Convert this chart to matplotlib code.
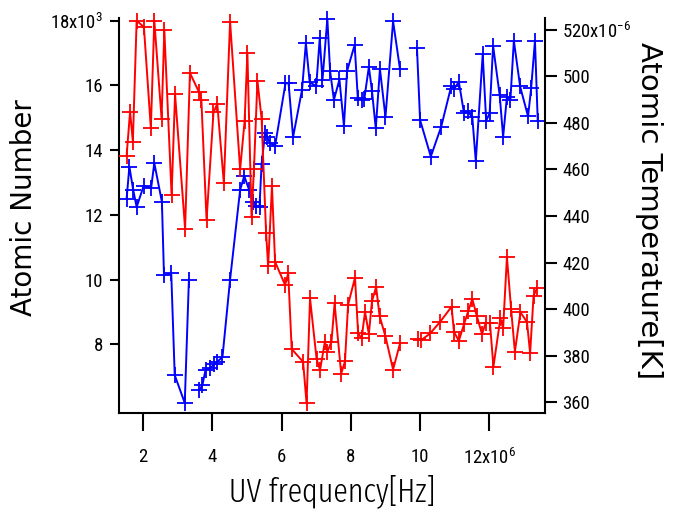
import numpy as np
import matplotlib
matplotlib.use("Agg")
import matplotlib.pyplot as plt

nan = np.nan

# UV frequency (x10^6 Hz) and Atomic Number (x10^3) -- blue, left axis
x_blue = [1.52, 1.60, 1.71, 1.81, 2.01, 2.23, 2.32, 2.54, 2.60, 2.81, 2.91, 3.20, 3.32,
          3.47,
          3.62, 3.71, 3.80, 3.93, 4.05, 4.14, 4.29, 4.51, 4.80, 4.92, 5.06, 5.18, 5.27, 5.36,
          5.42, 5.52, 5.58, 5.66, 5.81, 6.11, 6.20, 6.33, 6.59, 6.70, 6.81, 7.00, 7.10, 7.18,
          7.32, 7.40, 7.51, 7.67, 7.80, 7.89, 8.11, 8.20, 8.31, 8.39, 8.52, 8.61, 8.72, 8.84,
          9.00, 9.22, 9.42,
          9.66,
          9.91, 10.00, 10.31, 10.61, 10.90, 10.99, 11.12, 11.27, 11.38, 11.51, 11.61, 11.81,
          11.91, 12.01, 12.11, 12.30, 12.40, 12.51, 12.61, 12.71, 12.89, 13.12, 13.21, 13.32, 13.40]
atomic_number = [12.50, 13.49, 12.77, 12.24, 12.89, 12.84, 13.60, 12.40, 10.14, 10.19, 7.05, 6.19, 10.00,
                 nan,
                 6.59, 6.74, 7.21, 7.26, 7.38, 7.46, 7.61, 10.00, 12.77, 13.20, 12.77, 12.41, 12.26, 12.25,
                 13.56, 14.52, 14.40, 14.22, 14.13, 16.06, 16.07, 14.40, 15.87, 17.30, 16.09, 15.98, 17.45, 16.16,
                 18.06, 16.44, 15.55, 16.18, 14.74, 16.44, 17.25, 15.62, 15.55, 15.59, 16.57, 15.83, 14.67, 16.51,
                 15.02, 17.98, 16.50,
                 nan,
                 17.16, 14.93, 13.80, 14.72, 15.97, 15.90, 16.11, 15.14, 15.20, 15.01, 13.66, 16.96,
                 14.90, 15.14, 17.22, 15.70, 14.41, 15.65, 15.55, 17.38, 15.97, 15.04, 15.91, 17.38, 14.90]

# UV frequency (x10^6 Hz) and Atomic Temperature (x10^-6 K) -- red, right axis
x_red = [1.52, 1.62, 1.70, 1.81, 2.02, 2.22, 2.32, 2.53, 2.61, 2.82, 2.92, 3.21, 3.35, 3.61, 3.68,
         3.83, 4.03, 4.14, 4.33, 4.51, 4.80, 4.93, 5.01, 5.13, 5.20, 5.30, 5.42, 5.55, 5.61, 5.72,
         5.81, 6.10, 6.19, 6.29, 6.62, 6.72, 6.82, 7.01, 7.11, 7.25, 7.32, 7.44, 7.53, 7.72, 7.83,
         7.92, 8.12, 8.21, 8.31, 8.41, 8.52, 8.61, 8.73, 8.83, 9.00, 9.22, 9.42,
         9.68,
         9.94, 10.04, 10.29, 10.58, 10.91, 10.98, 11.12, 11.27, 11.39, 11.51, 11.64, 11.79, 11.90,
         12.02, 12.12, 12.32, 12.40, 12.51, 12.63, 12.74, 12.90, 13.09, 13.18, 13.28, 13.39]
temperature = [465.9, 484.9, 472.0, 524.0, 521.2, 477.7, 524.0, 481.9, 519.8, 449.0, 492.3, 434.5, 501.5,
               493.3, 489.9, 438.3, 484.5, 488.2, 454.1, 523.6, 460.0, 480.9, 510.2, 439.7, 460.3, 498.2,
               481.9, 432.9, 418.5, 452.9, 420.3, 410.3, 415.4, 382.8, 377.3, 359.4, 404.6, 378.5, 373.8,
               386.0, 381.6, 386.0, 402.4, 372.2, 377.5, 401.9, 413.5, 389.5, 387.4, 398.8, 389.2, 403.4,
               409.5, 397.0, 388.2, 374.0, 385.2,
               nan,
               387.1, 386.7, 389.5, 394.5, 401.0, 390.2, 386.3, 393.5, 399.0, 404.3, 397.0, 389.2, 394.2,
               393.8, 375.2, 396.0, 391.7, 422.4, 400.0, 381.7, 398.6, 394.4, 381.0, 405.8, 409.2]

x_ticks = [2, 4, 6, 8, 10, 12]
x_ticklabels = ['2', '4', '6', '8', '10', r'12x10$^{6}$']
left_ticks = [8, 10, 12, 14, 16, 18]
left_ticklabels = ['8', '10', '12', '14', '16', r'18x10$^{3}$']
right_ticks = [360, 380, 400, 420, 440, 460, 480, 500, 520]
right_ticklabels = ['360', '380', '400', '420', '440', '460', '480', '500', r'520x10$^{-6}$']

tickfont = ['Roboto Condensed', 'DejaVu Sans']
plt.rcParams['mathtext.fontset'] = 'custom'
plt.rcParams['mathtext.rm'] = 'Roboto Condensed'
plt.rcParams['mathtext.it'] = 'Roboto Condensed'
plt.rcParams['mathtext.default'] = 'rm'

W, H = 678, 515
fig = plt.figure(figsize=(W / 100, H / 100), dpi=100)
ax = fig.add_axes([119 / W, 1 - 413 / H, (545 - 119) / W, (413 - 18.3) / H])
ax2 = ax.twinx()

ax.set_xlim(1.30, 13.61)
ax.set_ylim(5.88, 18.07)
ax2.set_ylim(355.3, 525.0)

ax.plot(x_blue, atomic_number, color='#0000ff', lw=1.4, marker='+', ms=11, mew=1.3, clip_on=False)
ax2.plot(x_red, temperature, color='#ff0000', lw=1.4, marker='+', ms=11, mew=1.3, clip_on=False)

for a in (ax, ax2):
    a.spines['top'].set_visible(False)
    for s in a.spines.values():
        s.set_linewidth(1.5)
ax.spines['right'].set_visible(False)
ax2.spines['left'].set_visible(False)
ax2.spines['bottom'].set_visible(False)

ax.set_xticks(x_ticks, x_ticklabels)
ax.set_yticks(left_ticks, left_ticklabels)
ax2.set_yticks(right_ticks, right_ticklabels)

ax.tick_params(axis='x', direction='out', length=13, width=1.5, pad=12, labelsize=13.5)
ax.tick_params(axis='y', direction='out', length=6.5, width=1.5, pad=5, labelsize=13.5)
ax2.tick_params(axis='y', direction='out', length=8.5, width=1.5, pad=4, labelsize=13.5)
for lab in ax.get_xticklabels() + ax.get_yticklabels() + ax2.get_yticklabels():
    lab.set_family(tickfont)

fig.text(24 / W, 1 - 208 / H, 'Atomic Number', rotation=90, ha='center', va='center',
         fontsize=20, family='DejaVu Sans')
fig.text(649 / W, 1 - 211 / H, 'Atomic Temperature[K]', rotation=270, ha='center', va='center',
         fontsize=21, family='DejaVu Sans')
fig.text(332 / W, 1 - 491 / H, 'UV frequency[Hz]', ha='center', va='center',
         fontsize=23.5, family=['Fira Sans Extra Condensed', 'DejaVu Sans'], fontweight=300)

fig.savefig('out.png', dpi=100)
